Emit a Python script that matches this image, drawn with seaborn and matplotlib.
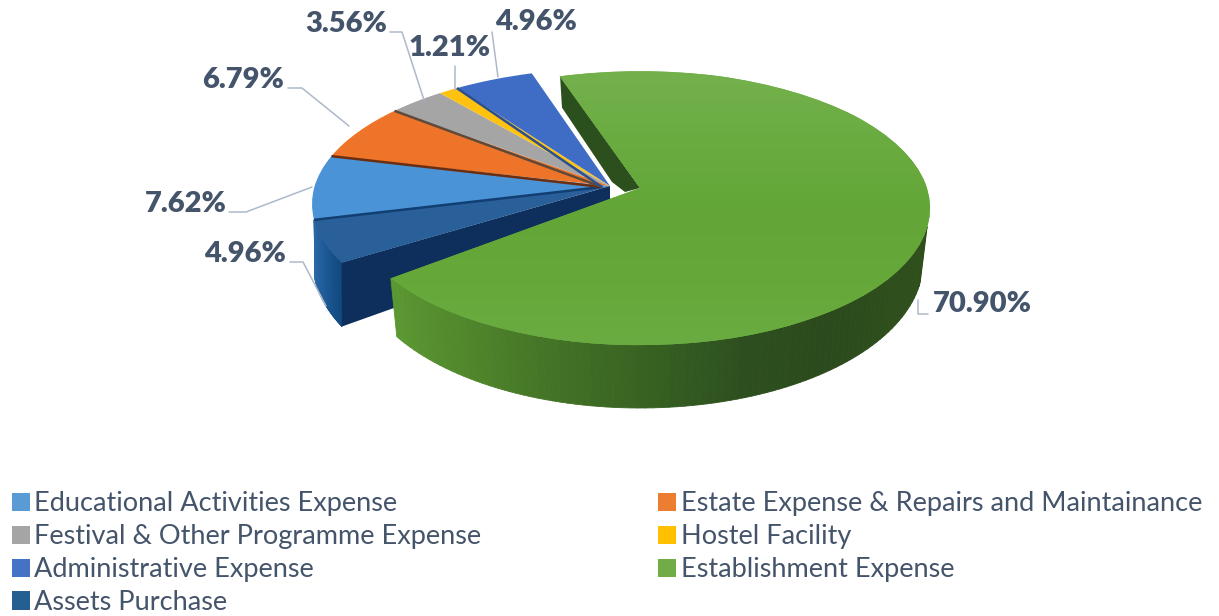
import numpy as np
import matplotlib
matplotlib.use("Agg")
import matplotlib.pyplot as plt
import matplotlib.transforms as mtrans
from matplotlib.collections import PolyCollection
from matplotlib.colors import LinearSegmentedColormap
from matplotlib.patches import Patch
import seaborn as sns

categories = ["Educational Activities Expense", "Estate Expense & Repairs and Maintainance",
              "Festival & Other Programme Expense", "Hostel Facility", "Administrative Expense",
              "Establishment Expense", "Assets Purchase"]
values = [7.62, 6.79, 3.56, 1.21, 4.96, 70.90, 4.96]
value_labels = ["7.62%", "6.79%", "3.56%", "1.21%", "4.96%", "70.90%", "4.96%"]
top_colors = ["#4A93D6", "#ED7428", "#A5A5A5", "#FFC20E", "#3F6CC4", "#69AA3E", "#2A6099"]
legend_colors = ["#5B9BD5", "#ED7D31", "#A5A5A5", "#FFC000", "#4472C4", "#70AD47", "#255E91"]

sns.set_theme(style="white")
plt.rcParams["font.family"] = ["Lato", "DejaVu Sans"]
TEXT = "#44546A"
LEAD = "#ADB9CA"

fig = plt.figure(figsize=(12.19, 6.16), dpi=100)
ax = fig.add_axes([0, 0, 1, 1])
palette = sns.color_palette(top_colors)


def warp(theta):
    t = np.asarray(theta, float)
    return t - 6.5 * np.sin(np.pi * np.clip(t - 106, 0, 150) / 150)


class RimMap(mtrans.Transform):
    input_dims = output_dims = 2
    has_inverse = False
    is_separable = False

    def __init__(self, apex, center, rx, ry, warped=False):
        super().__init__()
        self.apex, self.center, self.rx, self.ry, self.warped = np.array(apex, float), center, rx, ry, warped

    def transform_non_affine(self, xy):
        xy = np.asarray(xy, float)
        r = np.hypot(xy[:, 0], xy[:, 1])
        th = np.degrees(np.arctan2(xy[:, 1], xy[:, 0])) % 360
        if self.warped:
            th = warp(th)
        a = np.radians(th)
        rim_pts = np.column_stack([self.center[0] + self.rx * np.cos(a), self.center[1] - self.ry * np.sin(a)])
        return self.apex + r[:, None] * (rim_pts - self.apex)


def rim(theta, center, rx, ry):
    a = np.radians(theta)
    return np.column_stack([center[0] + rx * np.cos(a), center[1] - ry * np.sin(a)])


wedges, _ = ax.pie(values, colors=palette, startangle=193, counterclock=False, radius=1.0,
                   wedgeprops=dict(linewidth=0))
ax.set_aspect("auto")
ax.set_xlim(0, 1219)
ax.set_ylim(616, 0)
ax.axis("off")

GREEN = 5
top_green = dict(apex=(640, 188), center=(640, 208), rx=290, ry=137)
bot_green = dict(center=(640, 262), rx=283, ry=146)
top_grp = dict(apex=(610, 186), center=(616, 204), rx=304, ry=136)
bot_grp = dict(center=(610, 262), rx=297, ry=150)
grp_map = RimMap(top_grp["apex"], top_grp["center"], top_grp["rx"], top_grp["ry"], warped=True)
green_map = RimMap(**top_green)

for i, w in enumerate(wedges):
    w.set_transform((green_map if i == GREEN else grp_map) + ax.transData)
    w.set_zorder(6 if i == GREEN else 3)


def wall(th0, th1, top, bot, stops, zorder):
    th = np.linspace(th0, th1, 90)
    p = rim(th, top["center"], top["rx"], top["ry"])
    q = rim(th, bot["center"], bot["rx"], bot["ry"])
    cmap = LinearSegmentedColormap.from_list("w", stops)
    polys = [[p[k], p[k + 1], q[k + 1], q[k]] for k in range(len(th) - 1)]
    cols = [cmap(k / (len(th) - 2)) for k in range(len(th) - 1)]
    ax.add_collection(PolyCollection(polys, facecolors=cols, edgecolors=cols, linewidths=0.6, zorder=zorder))


# exploded slices: outer wall and inner face of the lowest slice
ang_green_end = 106 - 360 * values[GREEN] / 100 + 360
ang_assets_end = ang_green_end - 360 * values[6] / 100
wall(warp(ang_assets_end), warp(ang_green_end), top_grp, bot_grp, ["#2D6BA8", "#1F5C99", "#124A80"], 2)
cp = rim(warp(ang_green_end), top_grp["center"], top_grp["rx"], top_grp["ry"])[0]
cq = rim(warp(ang_green_end), bot_grp["center"], bot_grp["rx"], bot_grp["ry"])[0]
ax.fill([top_grp["apex"][0], cp[0], cq[0], top_grp["apex"][0]],
        [top_grp["apex"][1], cp[1], cq[1], top_grp["apex"][1] + 45], color="#0E2F5C", zorder=2.5, lw=0)

# thin dark seams along the lower edge of each exploded slice
seam_cols = {0: "#123F73", 1: "#6B2E10", 2: "#5E4A3A", 4: "#2C4F8F"}
cum = 193.0
for i, v in enumerate(values):
    cum_end = cum - 360 * v / 100
    if i in seam_cols:
        p = rim(warp(cum), top_grp["center"], top_grp["rx"], top_grp["ry"])[0]
        ax.plot([top_grp["apex"][0] - 8, p[0]], [top_grp["apex"][1] + 1, p[1]], color=seam_cols[i], lw=1.8,
                zorder=4, solid_capstyle="butt")
    cum = cum_end

# green slice: back face, outer wall, top
a0 = rim(106, top_green["center"], top_green["rx"], top_green["ry"])[0]
b0 = rim(106, bot_green["center"], bot_green["rx"], bot_green["ry"])[0]
apx, apy = top_green["apex"]
ax.fill([a0[0], b0[0], apx - 28, apx - 15, apx],
        [a0[1], b0[1] - 14, apy - 6, apy + 4, apy], color="#2C4F1E", zorder=5, lw=0)
wall(ang_green_end, 352, top_green, bot_green,
     ["#5C9832", "#51882C", "#447426", "#376122", "#2D4F1F", "#2B4A1D", "#2E4F1C", "#2E4F1C"], 5)

# soft shading of the green top face
grad = np.linspace(0, 1, 256)[:, None]
cm_top = LinearSegmentedColormap.from_list("g", ["#76B24F", "#6BAC42", "#63A637", "#66A83A", "#6CAD44"])
im = ax.imshow(grad, extent=(340, 940, 360, 60), cmap=cm_top, aspect="auto", zorder=7, interpolation="bilinear")
im.set_clip_path(wedges[GREEN])
ax.set_xlim(0, 1219)
ax.set_ylim(616, 0)

# value labels and leader lines
label_xy = [(186, 204), (243, 80), (346, 24), (450, 48), (536, 22), (982, 304), (245, 254)]
leaders = [[(229, 212), (246, 212), (312, 187)],
           [(288, 88), (302, 88), (349, 126)],
           [(390, 32), (402, 32), (424, 100)],
           [(455, 66), (455, 90)],
           [(492, 32), (498, 77)],
           [(928, 314), (918, 314), (918, 300)],
           [(290, 262), (303, 262), (326, 306)]]
for s, (x, y), pts in zip(value_labels, label_xy, leaders):
    xs, ys = zip(*pts)
    ax.plot(xs, ys, color=LEAD, lw=1.1, zorder=8)
    ax.text(x, y, s, ha="center", va="center", fontsize=21, fontweight="heavy", color=TEXT, zorder=9)

order = [0, 2, 4, 6, 1, 3, 5]
handles = [Patch(facecolor=legend_colors[i], edgecolor="none") for i in order]
labels = [categories[i] for i in order]
ax.legend(handles, labels, ncol=2, loc="upper left", bbox_to_anchor=(11.5, 491.5),
          bbox_transform=ax.transData, frameon=False, fontsize=19.5, labelcolor=TEXT,
          handlelength=0.665, handleheight=0.665, handletextpad=0.18, labelspacing=0.29,
          columnspacing=6.52, borderpad=0, borderaxespad=0)

fig.savefig("out.png", dpi=100, facecolor="white")
